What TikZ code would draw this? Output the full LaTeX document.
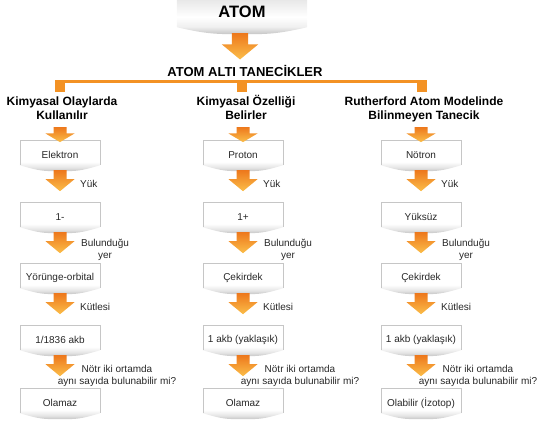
\documentclass[tikz,border=0pt]{standalone}
\usepackage{fontspec}
\setmainfont{Liberation Sans}
\usetikzlibrary{backgrounds}

\definecolor{turuncu}{RGB}{243,146,36}
\definecolor{okust}{RGB}{237,120,28}
\definecolor{okalt}{RGB}{251,190,74}
\definecolor{yazi}{RGB}{40,40,40}

\pgfdeclareverticalshading{belgegolge}{100bp}{color(0bp)=(gray!45); color(25bp)=(gray!45); color(31bp)=(gray!20); color(40bp)=(white); color(75bp)=(white); color(100bp)=(white)}
\pgfdeclareverticalshading{atomgolge}{100bp}{color(0bp)=(gray!45); color(25bp)=(gray!45); color(36bp)=(gray!12); color(50bp)=(white); color(75bp)=(gray!18); color(100bp)=(gray!18)}

\tikzset{
  kutu/.style={minimum width=80pt, minimum height=30pt, inner sep=0pt, text=yazi, font=\fontsize{10}{12}\selectfont},
  baslik/.style={align=center, inner sep=0pt, font=\bfseries\fontsize{12}{14}\selectfont},
  etiket/.style={align=center, inner sep=0pt, text=yazi, font=\fontsize{10}{12}\selectfont},
  ok/.pic={\shade[top color=okust, bottom color=okalt] (-6.5,0) -- (6.5,0) -- (6.5,9) -- (14.5,9) -- (0,21) -- (-14.5,9) -- (-6.5,9) -- cycle;}
}

% kutunun golgeli, kavisli alt kenari
\newcommand{\belge}[1]{%
  \shade[shading=belgegolge] (#1.north west) -- (#1.north east) -- ([yshift=5pt]#1.south east)
    .. controls ([xshift=-20pt,yshift=-1pt]#1.south east) and ([xshift=16pt,yshift=-1pt]#1.south) .. ([yshift=-1pt]#1.south)
    .. controls ([xshift=-16pt,yshift=-1pt]#1.south) and ([xshift=20pt,yshift=-1pt]#1.south west) .. ([yshift=5pt]#1.south west) -- cycle;
  \draw[gray!45, line width=0.6pt] ([yshift=5pt]#1.south west) -- (#1.north west) -- (#1.north east) -- ([yshift=5pt]#1.south east);}

\begin{document}
\begin{tikzpicture}[x=1pt, y=-1pt]
\useasboundingbox (0,0) rectangle (537,426);

\node[minimum width=130pt, minimum height=24pt, inner sep=0pt, font=\bfseries\fontsize{16.5}{19}\selectfont] (atom) at (242,12) {ATOM};
\pic[scale=1.25] at ([xshift=-2pt,yshift=-9pt]atom.south) {ok};
\node[inner sep=0pt, anchor=base, font=\bfseries\fontsize{13}{15}\selectfont] (alt) at (245,76) {ATOM ALTI TANEC\.{I}KLER};

\fill[turuncu] (55,80) rectangle (427,83);
\fill[turuncu] (55,80) rectangle (65,92);
\fill[turuncu] (237,80) rectangle (247,92);
\fill[turuncu] (417,80) rectangle (427,92);

\begin{scope}[shift={(60,0)}]
\node[baslik, anchor=base] (b1) at (2,119) {Kimyasal Olaylarda\\Kullanılır};
\node[kutu] (e1) at (0,155) {Elektron};
\node[kutu] (e2) at (0,217) {1-};
\node[kutu] (e3) at (0,278) {Yörünge-orbital};
\node[kutu] (e4) at (0,340) {1/1836 akb};
\node[kutu] (e5) at (0,403) {Olamaz};
\pic[yscale=0.72] at (0,127) {ok};
\pic at (e1.south) {ok};
\pic at (e2.south) {ok};
\pic at (e3.south) {ok};
\pic at (e4.south) {ok};
\node[etiket, anchor=base west] at (20,187) {Yük};
\node[etiket, anchor=base] at (45,258) {Bulunduğu\\yer};
\node[etiket, anchor=base west] at (20,310) {Kütlesi};
\node[etiket, anchor=base] at (57,384) {Nötr iki ortamda\\aynı sayıda bulunabilir mi?};
\end{scope}

\begin{scope}[shift={(243,0)}]
\node[baslik, anchor=base] (b2) at (3,119) {Kimyasal Özelliği\\Belirler};
\node[kutu] (p1) at (0,155) {Proton};
\node[kutu] (p2) at (0,217) {1+};
\node[kutu] (p3) at (0,278) {Çekirdek};
\node[kutu] (p4) at (0,340) {1 akb (yaklaşık)};
\node[kutu] (p5) at (0,403) {Olamaz};
\pic[yscale=0.72] at (0,127) {ok};
\pic at (p1.south) {ok};
\pic at (p2.south) {ok};
\pic at (p3.south) {ok};
\pic at (p4.south) {ok};
\node[etiket, anchor=base west] at (20,187) {Yük};
\node[etiket, anchor=base] at (45,258) {Bulunduğu\\yer};
\node[etiket, anchor=base west] at (20,310) {Kütlesi};
\node[etiket, anchor=base] at (57,384) {Nötr iki ortamda\\aynı sayıda bulunabilir mi?};
\end{scope}

\begin{scope}[shift={(421,0)}]
\node[baslik, anchor=base] (b3) at (3,119) {Rutherford Atom Modelinde\\Bilinmeyen Tanecik};
\node[kutu] (n1) at (0,155) {Nötron};
\node[kutu] (n2) at (0,217) {Yüksüz};
\node[kutu] (n3) at (0,278) {Çekirdek};
\node[kutu] (n4) at (0,340) {1 akb (yaklaşık)};
\node[kutu] (n5) at (0,403) {Olabilir (\.{I}zotop)};
\pic[yscale=0.72] at (0,127) {ok};
\pic at (n1.south) {ok};
\pic at (n2.south) {ok};
\pic at (n3.south) {ok};
\pic at (n4.south) {ok};
\node[etiket, anchor=base west] at (20,187) {Yük};
\node[etiket, anchor=base] at (45,258) {Bulunduğu\\yer};
\node[etiket, anchor=base west] at (20,310) {Kütlesi};
\node[etiket, anchor=base] at (57,384) {Nötr iki ortamda\\aynı sayıda bulunabilir mi?};
\end{scope}

\begin{scope}[on background layer]
\shade[shading=atomgolge] (atom.north west) -- (atom.north east) -- ([yshift=-3pt]atom.south east)
  .. controls ([xshift=-30pt,yshift=-10pt]atom.south east) and ([xshift=25pt,yshift=-10pt]atom.south) .. ([yshift=-10pt]atom.south)
  .. controls ([xshift=-25pt,yshift=-10pt]atom.south) and ([xshift=30pt,yshift=-10pt]atom.south west) .. ([yshift=-3pt]atom.south west) -- cycle;
\foreach \k in {e1,e2,e3,e4,e5,p1,p2,p3,p4,p5,n1,n2,n3,n4,n5}
  \belge{\k};
\end{scope}
\end{tikzpicture}
\end{document}
